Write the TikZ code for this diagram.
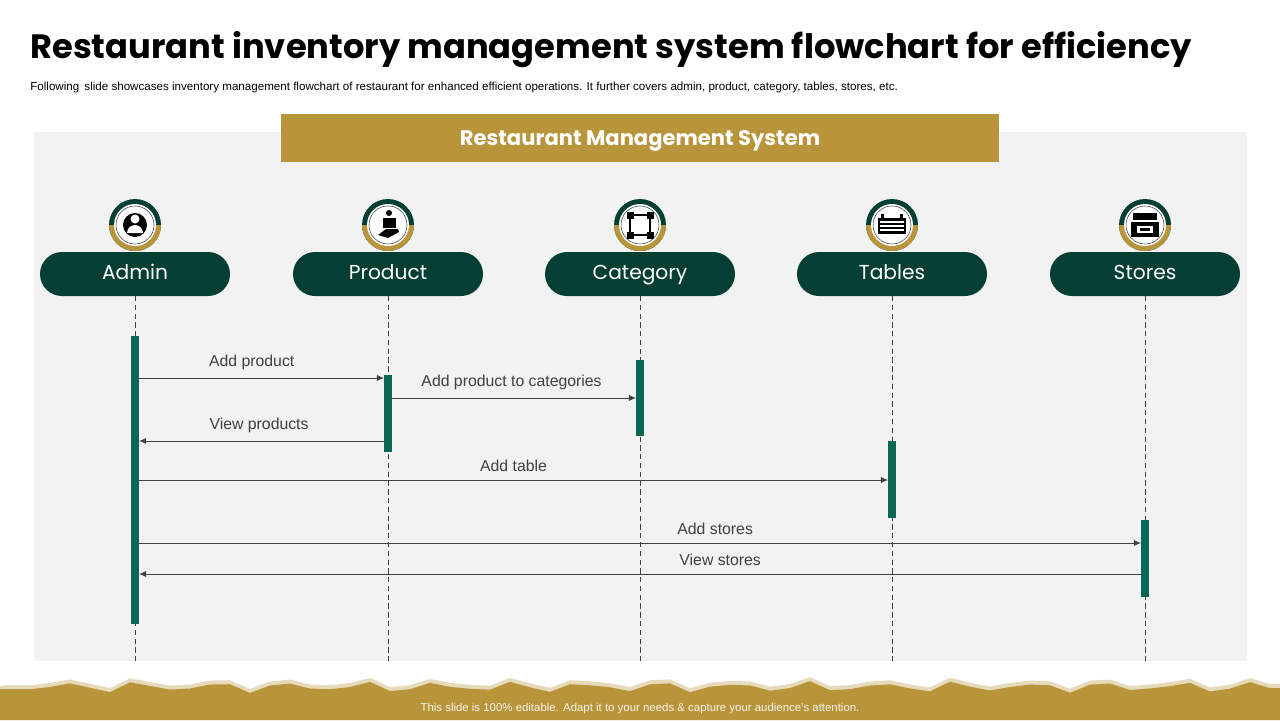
\documentclass[tikz,border=0pt]{standalone}
\usepackage{fontspec}
\setmainfont{Liberation Sans}
\newfontfamily\titlefont{Poppins}
\usetikzlibrary{positioning}
\usetikzlibrary{arrows.meta}
\definecolor{darkgreen}{HTML}{053F33}
\definecolor{bargreen}{HTML}{0A6753}
\definecolor{gold}{HTML}{B8943A}
\definecolor{panel}{HTML}{F2F2F2}
\definecolor{txt}{HTML}{404040}
\tikzset{
  pill/.style={fill=darkgreen, rounded corners=22*0.02cm, minimum width=190*0.02cm, minimum height=44*0.02cm, text=white, font=\titlefont\fontsize{11.5}{12}\selectfont, inner sep=0pt, text height=8pt, text depth=1.5pt},
  lifeline/.style={densely dashed, draw=txt, line width=0.4pt},
  actbar/.style={fill=bargreen, draw=none},
  msg/.style={-{Latex[length=4pt,width=3.5pt]}, draw=txt, line width=0.5pt},
  msglabel/.style={text=txt, font=\fontsize{9}{10}\selectfont},
}
\begin{document}
\begin{tikzpicture}[x=0.02cm, y=-0.02cm]
        % background %
        \useasboundingbox (0,0) rectangle (1280,720);
        \fill[white] (0,0) rectangle (1280,720);
        \fill[panel] (34,132) rectangle (1247,661);

        % title %
        \node[anchor=west, font=\titlefont\bfseries\fontsize{19.2}{20}\selectfont, inner sep=0pt] (title) at (30,50) {Restaurant inventory management system flowchart for efficiency};
        \node[anchor=west, font=\fontsize{6.6}{7}\selectfont, text=black, inner sep=0pt] (sub) at (30,88) {Following\, slide showcases inventory management flowchart of restaurant for enhanced efficient operations. It further covers admin, product, category, tables, stores, etc.};
        \node[fill=gold, minimum width=718*0.02cm, minimum height=48*0.02cm, text=white, font=\titlefont\bfseries\fontsize{12}{13}\selectfont, text height=9pt, text depth=0pt] (sys) at (640,138) {Restaurant Management System};

        % nodes %
        \foreach \x/\n/\t in {135/admin/Admin, 388/product/Product, 640/category/Category, 892/tables/Tables, 1145/stores/Stores}{
          \draw[lifeline] (\x,296) -- (\x,661);
          \node[pill] (\n) at (\x,274) {\t};
          \fill[darkgreen] (\x,225) circle (26*0.02cm);
          \fill[gold] (\x-26,225) arc (180:360:26*0.02cm) -- cycle;
          \fill[white] (\x,225) circle (21*0.02cm);
          \draw[txt, line width=0.3pt] (\x,225) circle (19*0.02cm);
        }

        % icons %
        \fill[black] (135,225) circle (12*0.02cm);
        \fill[white] (135,219) circle (4.5*0.02cm);
        \fill[white] (127,233) arc (180:0:8*0.02cm) -- cycle;
        \fill[black] (378,235) -- (386,229) -- (398,229) -- (399,232) -- (388,238) -- cycle;
        \fill[black] (383,218) rectangle (396,228);
        \fill[black] (389,213) circle (3*0.02cm);
        \draw[black, line width=1pt] (630,215) rectangle (650,235);
        \foreach \a/\b in {630/215, 650/215, 630/235, 650/235} \fill[black] (\a-3.5,\b-3.5) rectangle (\a+3.5,\b+3.5);
        \fill[black] (878,218) rectangle (906,234);
        \foreach \yy in {222,226,230} \draw[white, line width=0.6pt] (880,\yy) -- (904,\yy);
        \fill[black] (881,214) rectangle (884,218);
        \fill[black] (900,214) rectangle (903,218);
        \fill[black] (1133,213) rectangle (1157,220);
        \fill[black] (1131,222) rectangle (1159,237);
        \fill[white] (1137,226) rectangle (1153,233);
        \fill[black] (1140,228) rectangle (1150,231);

        % activation bars %
        \fill[actbar] (131,336) rectangle (139,624);
        \fill[actbar] (384,375) rectangle (392,452);
        \fill[actbar] (636,360) rectangle (644,436);
        \fill[actbar] (888,441) rectangle (896,518);
        \fill[actbar] (1141,520) rectangle (1149,597);

        % edges %
        \coordinate (a1) at (139,378); \coordinate (p1) at (384,378);
        \draw[msg] (a1) -- node[msglabel, above=1pt, pos=0.46] {Add product} (p1);
        \coordinate (p2) at (392,398); \coordinate (c2) at (636,398);
        \draw[msg] (p2) -- node[msglabel, above=1pt, pos=0.49] {Add product to categories} (c2);
        \coordinate (p3) at (384,441); \coordinate (a3) at (139,441);
        \draw[msg] (p3) -- node[msglabel, above=1pt, pos=0.51] {View products} (a3);
        \coordinate (a4) at (139,480); \coordinate (t4) at (888,480);
        \draw[msg] (a4) -- node[msglabel, above=1pt] {Add table} (t4);
        \coordinate (a5) at (139,543); \coordinate (s5) at (1141,543);
        \draw[msg] (a5) -- node[msglabel, above=1pt, pos=0.575] {Add stores} (s5);
        \coordinate (s6) at (1141,574); \coordinate (a6) at (139,574);
        \draw[msg] (s6) -- node[msglabel, above=1pt, pos=0.42] {View stores} (a6);

        % footer %
        \fill[gold!35] (0,720) -- (0,686) \foreach \i in {0,...,63}{ -- (\i*20+10, {683 + 4*sin(\i*97) + 2*cos(\i*211)}) } -- (1280,684) -- (1280,720) -- cycle;
        \fill[gold] (0,720) -- (0,689) \foreach \i in {0,...,63}{ -- (\i*20+10, {687 + 4*sin(\i*97) + 2*cos(\i*211)}) } -- (1280,688) -- (1280,720) -- cycle;
        \node[text=white!90!gold, font=\fontsize{6.5}{7}\selectfont] (foot) at (640,709) {This slide is 100\% editable. Adapt it to your needs \& capture your audience’s attention.};
\end{tikzpicture}
\end{document}
